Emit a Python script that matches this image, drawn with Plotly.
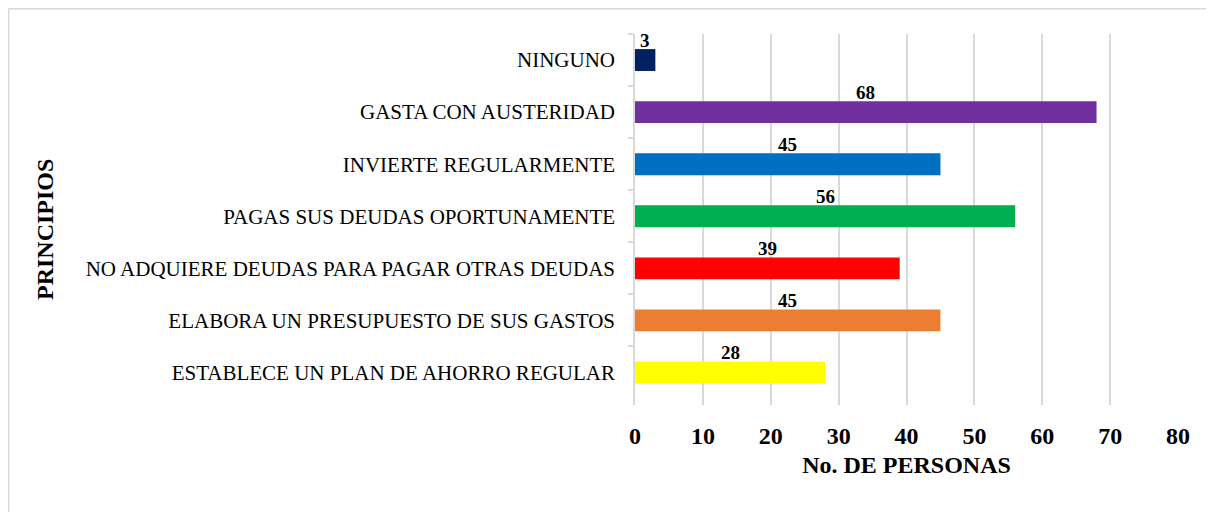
import plotly.graph_objects as go

categorias = ['NINGUNO', 'GASTA CON AUSTERIDAD', 'INVIERTE REGULARMENTE',
              'PAGAS SUS DEUDAS OPORTUNAMENTE', 'NO ADQUIERE DEUDAS PARA PAGAR OTRAS DEUDAS',
              'ELABORA UN PRESUPUESTO DE SUS GASTOS', 'ESTABLECE UN PLAN DE AHORRO REGULAR']
personas = [3, 68, 45, 56, 39, 45, 28]
colores = ['#002060', '#7030A0', '#0070C0', '#00B050', '#FF0000', '#ED7D31', '#FFFF00']
x_ticks = [0, 10, 20, 30, 40, 50, 60, 70, 80]

FONT = 'Liberation Serif, Times New Roman, serif'
W, H = 1214, 512
# la pagina deja 8px de margen, asi que todo va corrido 8px
L, R, T, B = 627, 44, 26, 115
pw, ph = W - L - R, H - T - B

fig = go.Figure(go.Bar(
    x=personas, y=categorias, orientation='h',
    marker_color=colores, marker_line_width=0,
    hoverinfo='skip', showlegend=False
))

# etiquetas de datos centradas sobre cada barra
for cat, v in zip(categorias, personas):
    fig.add_annotation(x=v / 2, y=cat, text=f'<b>{v}</b>', showarrow=False,
                       yshift=20, font=dict(size=19, color='black', family=FONT))

# titulo del eje y como anotacion (el standoff no mueve el titulo sin automargin)
fig.add_annotation(xref='paper', yref='paper', x=(37 - L) / pw, y=1 - (222 - T) / ph,
                   text='<b>PRINCIPIOS</b>', textangle=-90, showarrow=False,
                   xanchor='center', yanchor='middle', font=dict(size=24, color='black', family=FONT))

# borde gris del area del grafico (solo arriba e izquierda quedan visibles)
x_left = (0.75 - L) / pw
y_top = 1 + (T - 0.75) / ph
fig.add_shape(type='line', xref='paper', yref='paper', x0=x_left, x1=(W - L) / pw + 0.1,
              y0=y_top, y1=y_top, line=dict(color='#d9d9d9', width=1.5))
fig.add_shape(type='line', xref='paper', yref='paper', x0=x_left, x1=x_left,
              y0=y_top, y1=-(B + 10) / ph, line=dict(color='#d9d9d9', width=1.5))

fig.update_layout(
    width=W, height=H,
    margin=dict(l=L, r=R, t=T, b=B, autoexpand=False),
    paper_bgcolor='white', plot_bgcolor='white',
    bargap=0.58,
    font=dict(family=FONT, color='black'),
)
fig.update_xaxes(
    range=[0, 80], tickvals=x_ticks, ticktext=[f'<b>{t}</b>' for t in x_ticks],
    tickfont=dict(size=24, family=FONT), showgrid=True, gridcolor='#d9d9d9', gridwidth=1.5,
    zeroline=False, showline=False, ticks='outside', ticklen=9, tickcolor='rgba(0,0,0,0)',
    title=dict(text='<b>No. DE PERSONAS</b>', font=dict(size=24, family=FONT), standoff=8),
    automargin=False, fixedrange=True
)
fig.update_yaxes(
    autorange='reversed', tickson='boundaries', ticks='outside', ticklen=5,
    tickcolor='#d9d9d9', tickwidth=1.5, showline=True, linecolor='#d9d9d9', linewidth=1.5,
    tickfont=dict(size=21, family=FONT), showgrid=False, ticklabelstandoff=14,
    automargin=False, fixedrange=True
)

fig.write_html("out.html")
